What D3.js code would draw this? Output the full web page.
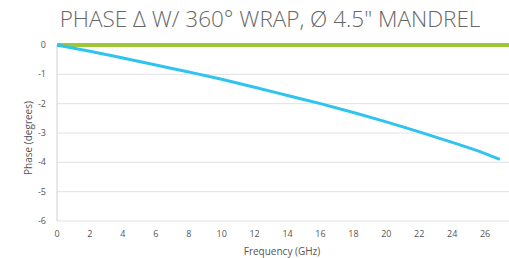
<!DOCTYPE html>
<html>
<head>
<meta charset='UTF-8'>
<title>Phase delta</title>
<script src='https://d3js.org/d3.v7.min.js'></script>
<style>
  body { margin: 0; background: #fff; }
  text { font-family: 'Open Sans', 'Lato', sans-serif; }
</style>
</head>
<body>
<div id='graph'></div>
<script>
// data
var freq = [0, 2, 4, 6, 8, 10, 12, 14, 16, 18, 20, 22, 24, 26, 26.9];
var phaseWrap = [0, -0.21, -0.44, -0.68, -0.92, -1.17, -1.44, -1.72, -2.0, -2.3, -2.62, -2.96, -3.32, -3.7, -3.9];
var refFreq = [0, 27.45];
var refPhase = [0, 0];
var xTicks = [0, 2, 4, 6, 8, 10, 12, 14, 16, 18, 20, 22, 24, 26];
var yTicks = [0, -1, -2, -3, -4, -5, -6];

var width = 509, height = 258;
var margin = {top: 45, right: 0, bottom: 37, left: 57};

var svg = d3.select('#graph').append('svg')
    .attr('width', width)
    .attr('height', height);

var x = d3.scaleLinear().domain([0, 27.45]).range([margin.left, width - margin.right]);
var y = d3.scaleLinear().domain([0, -6]).range([margin.top, height - margin.bottom]);

// title
svg.append('text')
   .attr('x', 270)
   .attr('y', 27)
   .attr('text-anchor', 'middle')
   .style('font-size', '22.5px')
   .style('font-weight', 300)
   .style('fill', '#666')
   .text('PHASE \u0394 W/ 360\u00b0 WRAP, \u00d8 4.5" MANDREL');

// gridlines
svg.append('g')
   .selectAll('line')
   .data(yTicks.slice(1))
   .enter()
   .append('line')
   .attr('x1', margin.left)
   .attr('x2', width)
   .attr('y1', d => y(d))
   .attr('y2', d => y(d))
   .style('stroke', '#e2e2e2')
   .style('stroke-width', 1);

// y axis line
svg.append('line')
   .attr('x1', margin.left).attr('x2', margin.left)
   .attr('y1', y(0)).attr('y2', y(-6))
   .style('stroke', '#d0d0d0');

// y tick labels
svg.append('g')
   .selectAll('text')
   .data(yTicks)
   .enter()
   .append('text')
   .attr('x', 46)
   .attr('y', d => y(d))
   .attr('dy', '0.35em')
   .attr('text-anchor', 'end')
   .style('font-size', '9px')
   .style('fill', '#555')
   .text(d => d);

// x tick labels
svg.append('g')
   .selectAll('text')
   .data(xTicks)
   .enter()
   .append('text')
   .attr('x', d => x(d))
   .attr('y', 237)
   .attr('text-anchor', 'middle')
   .style('font-size', '9px')
   .style('fill', '#555')
   .text(d => d);

// axis titles
svg.append('text')
   .attr('x', 282)
   .attr('y', 255)
   .attr('text-anchor', 'middle')
   .style('font-size', '10px')
   .style('fill', '#555')
   .text('Frequency (GHz)');

svg.append('text')
   .attr('transform', 'translate(32,' + 138 + ') rotate(-90)')
   .attr('text-anchor', 'middle')
   .style('font-size', '10px')
   .style('fill', '#555')
   .text('Phase (degrees)');

// series
svg.append('path')
   .datum(refPhase)
   .attr('d', d3.line().x((d, i) => x(refFreq[i])).y(d => y(d)))
   .style('fill', 'none')
   .style('stroke', '#9dc735')
   .style('stroke-width', 4);

svg.append('path')
   .datum(phaseWrap)
   .attr('d', d3.line().curve(d3.curveMonotoneX).x((d, i) => x(freq[i])).y(d => y(d)))
   .style('fill', 'none')
   .style('stroke', '#2ec4ef')
   .style('stroke-width', 3)
   .style('stroke-linejoin', 'round');
</script>
</body>
</html>
